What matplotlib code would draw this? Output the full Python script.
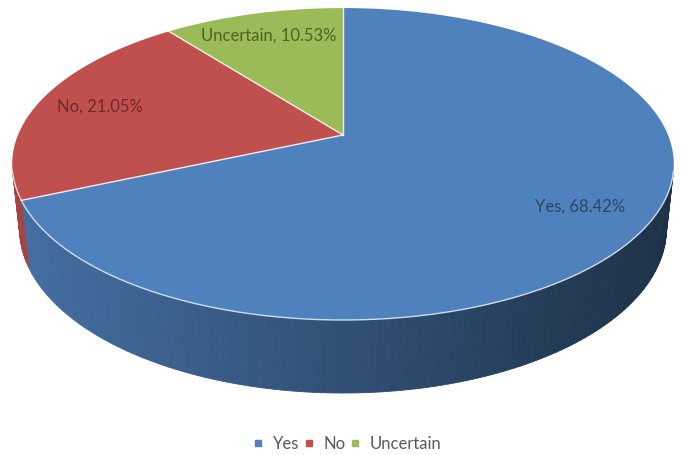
import numpy as np
import matplotlib.pyplot as plt
import matplotlib.colors as mcolors
from matplotlib.patches import Polygon
from matplotlib.lines import Line2D

labels = ['Yes', 'No', 'Uncertain']
shares = [68.42, 21.05, 10.53]
colors = ['#4f81bd', '#c0504d', '#9bbb59']
text_colors = ['#2c4868', '#6e2a28', '#4c6426']

# 3d view (pixel space)
CX, CY = 343, 135
ELEV = np.radians(27.6)
DIST = 4.76
FOCAL = 1547
THICK = 0.226


def project(theta, r=1.0, z=0.0):
    # theta measured clockwise from the far side of the pie
    X = r * np.sin(theta)
    Y = r * np.cos(theta)
    s, c = np.sin(ELEV), np.cos(ELEV)
    depth = DIST + Y * c - z * s
    ys = Y * s + z * c
    return CX + FOCAL * X / depth, CY - FOCAL * ys / depth


def shade(hexcol, f):
    r, g, b = mcolors.to_rgb(hexcol)
    return (r * f, g * f, b * f)


fig = plt.figure(figsize=(6.81, 4.55), dpi=100)
ax = fig.add_axes([0, 0, 1, 1])
ax.set_xlim(0, 681)
ax.set_ylim(455, 0)
ax.axis('off')

fracs = np.array(shares) / sum(shares)
starts = np.concatenate([[0], np.cumsum(fracs)[:-1]]) * 2 * np.pi
ends = np.cumsum(fracs) * 2 * np.pi

vis_cos = -1.0 / (DIST * np.cos(ELEV))

# side walls
for a0, a1, col in zip(starts, ends, colors):
    th = np.linspace(a0, a1, max(int(np.degrees(a1 - a0)), 2) + 1)
    for t0, t1 in zip(th[:-1], th[1:]):
        tm = 0.5 * (t0 + t1)
        if np.cos(tm) >= vis_cos:
            continue
        x0t, y0t = project(t0)
        x1t, y1t = project(t1)
        x1b, y1b = project(t1, z=-THICK)
        x0b, y0b = project(t0, z=-THICK)
        xm = 0.5 * (x0t + x1t)
        f = 0.86 - 0.48 * (xm - 10) / 660
        c = shade(col, f)
        ax.add_patch(Polygon([(x0t, y0t), (x1t, y1t), (x1b, y1b), (x0b, y0b)],
                             closed=True, facecolor=c, edgecolor=c, lw=0.6))

# top faces
for a0, a1, col in zip(starts, ends, colors):
    th = np.linspace(a0, a1, 200)
    xs, ys = project(th)
    pts = [(CX, CY)] + list(zip(xs, ys))
    ax.add_patch(Polygon(pts, closed=True, facecolor=col, edgecolor='none'))

# front rim highlight
th = np.linspace(np.arccos(vis_cos), 2 * np.pi - np.arccos(vis_cos), 300)
xs, ys = project(th)
ax.plot(xs, ys, color='#dce8f5', lw=1.0, alpha=0.9)

# slice separators
for a in starts:
    x, y = project(a)
    ax.plot([CX, x], [CY, y], color='white', lw=1.0, alpha=0.85)

# data labels
for a0, a1, lab, val, tc in zip(starts, ends, labels, shares, text_colors):
    x, y = project(0.5 * (a0 + a1), r=0.8)
    ax.text(x, y, f'{lab}, {val:.2f}%', ha='center', va='center',
            fontsize=12, family='Lato', color=tc)

handles = [Line2D([], [], marker='s', linestyle='none', markersize=4.5,
                  markerfacecolor=c, markeredgecolor=c) for c in colors]
fig.legend(handles, labels, loc='center', bbox_to_anchor=(0.51, 1 - 444 / 455),
           ncol=3, frameon=False, handlelength=0.6, handletextpad=0.6,
           columnspacing=0.25, prop={'family': 'Lato', 'size': 12},
           labelcolor='#595959')

fig.savefig('out.png', dpi=100)
